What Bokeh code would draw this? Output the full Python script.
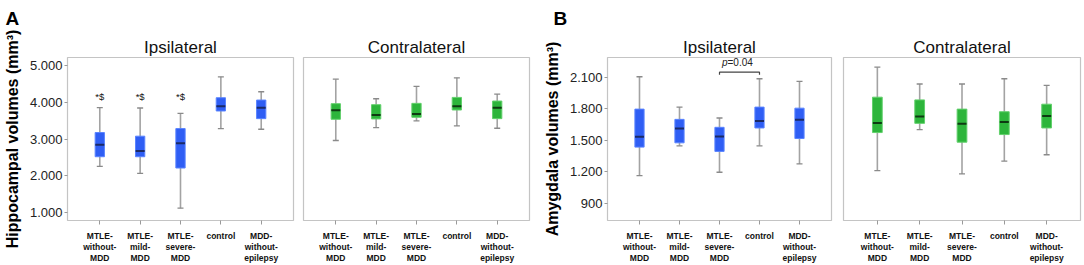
from bokeh.plotting import figure
from bokeh.layouts import row
from bokeh.models import Range1d, FixedTicker, ColumnDataSource, Title
from bokeh.embed import file_html
from bokeh.resources import INLINE

# ---------------- data ----------------
groups = ["MTLE-\nwithout-\nMDD", "MTLE-\nmild-\nMDD", "MTLE-\nsevere-\nMDD", "control", "MDD-\nwithout-\nepilepsy"]
xpos = [1, 2, 3, 4, 5]

# Hippocampal volumes (mm3)  -- ipsilateral
hip_ipsi_low = [2255, 2065, 1117, 3284, 3266]
hip_ipsi_q1 = [2517, 2517, 2210, 3763, 3555]
hip_ipsi_med = [2842, 2670, 2887, 3889, 3853]
hip_ipsi_q3 = [3176, 3077, 3284, 4124, 4061]
hip_ipsi_high = [3853, 3844, 3700, 4693, 4287]
# contralateral
hip_contra_low = [2959, 3312, 3492, 3357, 3293]
hip_contra_q1 = [3537, 3546, 3591, 3790, 3555]
hip_contra_med = [3781, 3655, 3682, 3889, 3853]
hip_contra_q3 = [3962, 3935, 3971, 4133, 4034]
hip_contra_high = [4630, 4097, 4431, 4666, 4224]

# Amygdala volumes (mm3) -- ipsilateral
amy_ipsi_low = [1162, 1446, 1194, 1446, 1273]
amy_ipsi_q1 = [1434, 1475, 1393, 1617, 1516]
amy_ipsi_med = [1532, 1611, 1535, 1683, 1696]
amy_ipsi_q3 = [1797, 1699, 1623, 1816, 1806]
amy_ipsi_high = [2106, 1816, 1712, 2087, 2062]
# contralateral
amy_contra_low = [1209, 1601, 1178, 1301, 1361]
amy_contra_q1 = [1573, 1661, 1481, 1554, 1617]
amy_contra_med = [1664, 1727, 1658, 1674, 1731]
amy_contra_q3 = [1911, 1885, 1797, 1772, 1844]
amy_contra_high = [2198, 2037, 2037, 2087, 2024]

hip_ticks = [1000, 2000, 3000, 4000, 5000]
hip_tick_labels = ["1.000", "2.000", "3.000", "4.000", "5.000"]
amy_ticks = [900, 1200, 1500, 1800, 2100]
amy_tick_labels = ["900", "1.200", "1.500", "1.800", "2.100"]

sig_marks = ["*$", "*$", "*$"]
sig_y = 4169
p_text = "=0.04"
p_bracket_y = 2150

FONT = "Liberation Sans"
BLUE_FILL, BLUE_LINE, BLUE_MED = "#2f5ef4", "#5a84ff", "#1b2a66"
GREEN_FILL, GREEN_LINE, GREEN_MED = "#2db53b", "#62d06c", "#0e3a12"


def make_panel(title, width, bl, br, ylo, yhi, ticks, tick_labels, low, q1, med, q3, high,
               fill, line, medc, show_y, ylabel=None, letter=None):
    p = figure(width=width, height=265, output_backend="svg", toolbar_location=None,
               x_range=Range1d(0.2, 5.8), y_range=Range1d(ylo, yhi),
               min_border_left=bl, min_border_right=br, min_border_top=56, min_border_bottom=45)
    p.add_layout(Title(text=title, align="center", text_font=FONT, text_font_style="normal",
                       text_font_size="17px", text_color="#111111", standoff=2), "above")
    if letter is not None:
        p.add_layout(Title(text=letter, align="left", offset=-(bl - 4), text_font=FONT,
                           text_font_style="bold", text_font_size="19px", text_color="#000000",
                           standoff=11), "above")
    p.background_fill_color = "white"
    p.border_fill_color = "white"
    p.outline_line_color = "#c4c4c4"
    p.outline_line_width = 1.2
    p.xgrid.visible = False
    p.ygrid.visible = False

    src = ColumnDataSource(dict(x=xpos, low=low, q1=q1, med=med, q3=q3, high=high))
    p.segment(x0="x", y0="low", x1="x", y1="high", source=src, line_color="#a3a3a3", line_width=1.6)
    p.scatter(x="x", y="low", source=src, marker="dash", size=6, line_color="#8a8a8a", line_width=1.3)
    p.scatter(x="x", y="high", source=src, marker="dash", size=6, line_color="#8a8a8a", line_width=1.3)
    p.vbar(x="x", bottom="q1", top="q3", width=0.23, source=src,
           fill_color=fill, line_color=line, line_width=1)
    p.dash(x="x", y="med", source=src, size=9, line_color=medc, line_width=2)

    xa = p.xaxis[0]
    xa.ticker = FixedTicker(ticks=xpos)
    xa.major_label_overrides = {x: g for x, g in zip(xpos, groups)}
    xa.axis_line_color = None
    xa.major_tick_out = 4
    xa.major_tick_in = 0
    xa.major_tick_line_color = "#9a9a9a"
    xa.minor_tick_line_color = None
    xa.major_label_text_font = FONT
    xa.major_label_text_font_style = "bold"
    xa.major_label_text_font_size = "8.5px"
    xa.major_label_text_color = "#111111"
    xa.major_label_text_line_height = 1.1
    xa.major_label_standoff = 6

    ya = p.yaxis[0]
    ya.ticker = FixedTicker(ticks=ticks)
    ya.axis_line_color = None
    ya.minor_tick_line_color = None
    if show_y:
        ya.major_label_overrides = {t: l for t, l in zip(ticks, tick_labels)}
        ya.major_tick_out = 3
        ya.major_tick_in = 0
        ya.major_tick_line_color = "#9a9a9a"
        ya.major_label_text_font = FONT
        ya.major_label_text_font_size = "13px"
        ya.major_label_text_color = "#222222"
        ya.major_label_standoff = 2
        ya.axis_label = ylabel
        ya.axis_label_text_font = FONT
        ya.axis_label_text_font_style = "bold"
        ya.axis_label_text_font_size = "16px"
        ya.axis_label_text_color = "#000000"
        ya.axis_label_standoff = 6
    else:
        ya.visible = False
    return p


pA1 = make_panel("Ipsilateral", 298, 66, 5, 780, 5220, hip_ticks, hip_tick_labels,
                 hip_ipsi_low, hip_ipsi_q1, hip_ipsi_med, hip_ipsi_q3, hip_ipsi_high,
                 BLUE_FILL, BLUE_LINE, BLUE_MED, True, "Hippocampal volumes (mm³)", "A")
pA2 = make_panel("Contralateral", 242, 5, 11, 780, 5220, hip_ticks, hip_tick_labels,
                 hip_contra_low, hip_contra_q1, hip_contra_med, hip_contra_q3, hip_contra_high,
                 GREEN_FILL, GREEN_LINE, GREEN_MED, False)
pB1 = make_panel("Ipsilateral", 297, 58, 6, 733, 2290, amy_ticks, amy_tick_labels,
                 amy_ipsi_low, amy_ipsi_q1, amy_ipsi_med, amy_ipsi_q3, amy_ipsi_high,
                 BLUE_FILL, BLUE_LINE, BLUE_MED, True, "Amygdala volumes (mm³)", "B")
pB2 = make_panel("Contralateral", 247, 6, 4, 733, 2290, amy_ticks, amy_tick_labels,
                 amy_contra_low, amy_contra_q1, amy_contra_med, amy_contra_q3, amy_contra_high,
                 GREEN_FILL, GREEN_LINE, GREEN_MED, False)

# significance marks on panel A ipsilateral
pA1.text(x=xpos[:3], y=[sig_y] * 3, text=sig_marks, text_align="center", text_baseline="middle",
         text_font_size="9.5px", text_color="#111111")

# p = 0.04 bracket on panel B ipsilateral
pB1.line(x=[xpos[2], xpos[2], xpos[3], xpos[3]],
         y=[p_bracket_y - 25, p_bracket_y, p_bracket_y, p_bracket_y - 25],
         line_color="#444444", line_width=1.2)
pB1.text(x=[3.2], y=[p_bracket_y + 35], text=["p"], text_align="right", text_baseline="bottom",
         text_font_size="10px", text_font_style="italic", text_color="#222222")
pB1.text(x=[3.2], y=[p_bracket_y + 35], text=[p_text], text_align="left", text_baseline="bottom",
         text_font_size="10px", text_color="#222222")

layout = row(pA1, pA2, pB1, pB2, spacing=0)
open("out.html", "w").write(file_html(layout, INLINE))
